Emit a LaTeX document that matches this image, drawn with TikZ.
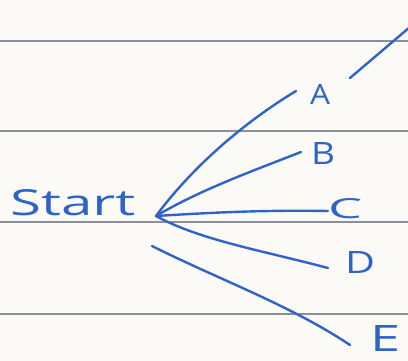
\documentclass[tikz,border=0pt]{standalone}
\usepackage{fontspec}
\usepackage{graphicx}
\setmainfont{Open Sans}
\definecolor{paper}{HTML}{FBFAF6}
\definecolor{rule}{HTML}{8C8E9C}
\definecolor{ink}{HTML}{2F63C6}
\begin{document}
\begin{tikzpicture}[x=1pt,y=-1pt,
  ruling/.style={draw=rule,line width=1.2pt},
  pen/.style={draw=ink,line width=2.4pt,line cap=round},
  letter/.style={text=ink,inner sep=0pt,font=\fontsize{24}{24}\selectfont}]
\fill[paper] (0,0) rectangle (408,361);
\useasboundingbox (0,0) rectangle (408,361);
% ruled lines
\draw[ruling] (0,41) -- (408,41);
\draw[ruling] (0,131) -- (408,131);
\draw[ruling] (0,222) -- (408,222);
\draw[ruling] (0,314) -- (408,314);
% labels
\node[letter,anchor=south west] (start) at (10,216) {\resizebox{125pt}{26pt}{Start}};
\coordinate (hub) at (156,216);
\coordinate (hubE) at (152,246);
\node[letter] (A) at (320,95) {\resizebox{20pt}{20pt}{A}};
\node[letter] (B) at (323,154) {\resizebox{24pt}{22pt}{B}};
\node[letter] (C) at (345,209) {\resizebox{34pt}{20pt}{C}};
\node[letter] (D) at (360,263) {\resizebox{30pt}{22pt}{D}};
\node[letter,anchor=west] (E) at (370,338) {\resizebox{30pt}{26pt}{E}};
\coordinate (Aend) at (296,91);
\coordinate (Bend) at (301,152);
\coordinate (Cend) at (328,211);
\coordinate (Dend) at (328,268);
\coordinate (Eend) at (350,345);
\coordinate (top1) at (350,78);
\coordinate (top2) at (410,27);
% connectors
\draw[pen] (hub) .. controls (190,170) and (240,125) .. (Aend);
\draw[pen] (hub) .. controls (200,190) and (250,172) .. (Bend);
\draw[pen] (hub) .. controls (220,212) and (270,210) .. (Cend);
\draw[pen] (hub) .. controls (200,240) and (260,250) .. (Dend);
\draw[pen] (hubE) .. controls (220,280) and (290,305) .. (Eend);
\draw[pen] (top1) -- (top2);
\end{tikzpicture}
\end{document}
